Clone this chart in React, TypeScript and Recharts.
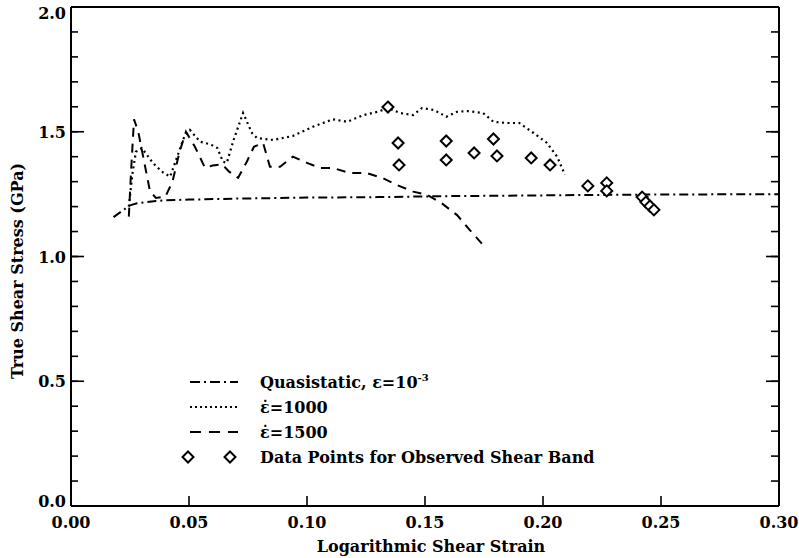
import React from 'react';
import { ComposedChart, Line, Scatter, XAxis, YAxis, ReferenceLine, Label } from 'recharts';

// Quasistatic, strain rate 10^-3
const quasiX = [0.018, 0.022, 0.025, 0.028, 0.032, 0.036, 0.04, 0.05, 0.07, 0.1, 0.13, 0.16, 0.2, 0.24, 0.3];
const quasiY = [1.158, 1.185, 1.205, 1.213, 1.218, 1.222, 1.225, 1.228, 1.232, 1.236, 1.238, 1.242, 1.245, 1.248, 1.25];

// strain rate 1000
const rate1000X = [0.0245, 0.026, 0.0275, 0.03, 0.0347, 0.0385, 0.042, 0.045, 0.048, 0.0504, 0.0547, 0.0589, 0.062, 0.0644, 0.066, 0.069, 0.0729, 0.0767, 0.0788, 0.0856, 0.094, 0.1025, 0.111, 0.117, 0.124, 0.13, 0.1343, 0.1394, 0.145, 0.1487, 0.154, 0.159, 0.1636, 0.168, 0.1746, 0.179, 0.1847, 0.19, 0.196, 0.2017, 0.206, 0.2093];
const rate1000Y = [1.2, 1.33, 1.42, 1.435, 1.375, 1.34, 1.32, 1.4, 1.48, 1.507, 1.46, 1.45, 1.435, 1.38, 1.375, 1.47, 1.575, 1.495, 1.475, 1.467, 1.483, 1.52, 1.55, 1.54, 1.567, 1.58, 1.595, 1.575, 1.567, 1.595, 1.587, 1.56, 1.58, 1.583, 1.575, 1.54, 1.535, 1.535, 1.495, 1.455, 1.4, 1.327];

// strain rate 1500
const rate1500X = [0.0245, 0.0255, 0.0267, 0.0285, 0.031, 0.0335, 0.036, 0.04, 0.043, 0.046, 0.0487, 0.0525, 0.0568, 0.06, 0.064, 0.067, 0.0708, 0.0745, 0.0775, 0.0814, 0.0843, 0.0886, 0.094, 0.1, 0.1055, 0.111, 0.118, 0.125, 0.132, 0.138, 0.145, 0.151, 0.157, 0.1636, 0.169, 0.1746];
const rate1500Y = [1.16, 1.35, 1.55, 1.5, 1.38, 1.26, 1.235, 1.24, 1.3, 1.42, 1.5, 1.44, 1.355, 1.365, 1.37, 1.34, 1.315, 1.38, 1.44, 1.455, 1.36, 1.36, 1.4, 1.375, 1.355, 1.355, 1.335, 1.335, 1.315, 1.287, 1.26, 1.247, 1.214, 1.166, 1.106, 1.046];

// Observed shear band data points
const bandX = [0.1343, 0.1386, 0.139, 0.159, 0.159, 0.1708, 0.179, 0.1805, 0.195, 0.203, 0.219, 0.227, 0.227, 0.242, 0.2436, 0.2453, 0.247];
const bandY = [1.599, 1.455, 1.367, 1.463, 1.387, 1.415, 1.471, 1.403, 1.395, 1.367, 1.283, 1.295, 1.263, 1.238, 1.218, 1.202, 1.187];

const xTicks = [0, 0.05, 0.1, 0.15, 0.2, 0.25, 0.3];
const yTicks = [0, 0.1, 0.2, 0.3, 0.4, 0.5, 0.6, 0.7, 0.8, 0.9, 1.0, 1.1, 1.2, 1.3, 1.4, 1.5, 1.6, 1.7, 1.8, 1.9, 2.0];

const legendLabels = ['Quasistatic, \u03B5=10', '\u03B5\u0307=1000', '\u03B5\u0307=1500', 'Data Points for Observed Shear Band'];

const toData = (xs: number[], ys: number[]) => xs.map((x, i) => ({ x, y: ys[i] }));
const quasiData = toData(quasiX, quasiY);
const rate1000Data = toData(rate1000X, rate1000Y);
const rate1500Data = toData(rate1500X, rate1500Y);
const bandData = toData(bandX, bandY);

const FONT = '"DejaVu Serif", serif';
const FS = 16;
const DASH_QUASI = '9 4 2 4';
const DASH_1000 = '2 3.5';
const DASH_1500 = '9 7';
const TICK_LINE = { stroke: '#000', strokeWidth: 1.6 };

const isMajor = (v: number) => Math.abs(v * 2 - Math.round(v * 2)) < 1e-6;

// With negative tickSize and matching tickMargin, the tick anchor (x, y) sits on the axis line.
const XTick = (props: any) => {
  const x = Number(props.x);
  const y = Number(props.y);
  const v = props.payload ? props.payload.value : 0;
  return (
    <text x={x} y={y + 22} textAnchor="middle" fontFamily={FONT} fontWeight="bold" fontSize={FS} fill="#000" stroke="none">
      {Number(v).toFixed(2)}
    </text>
  );
};

const YTickLeft = (props: any) => {
  const x = Number(props.x);
  const y = Number(props.y);
  const v = props.payload ? Number(props.payload.value) : 0;
  const major = isMajor(v);
  // end labels are nudged inside the frame, as in the reference
  const shift = v >= 2 ? 6 : v <= 0 ? -5 : 0;
  return (
    <g>
      {major && <rect x={x} y={y - 0.8} width={13} height={1.6} fill="#000" />}
      {major && (
        <text x={x - 5} y={y + 6 + shift} textAnchor="end" fontFamily={FONT} fontWeight="bold" fontSize={FS} fill="#000" stroke="none">
          {v.toFixed(1)}
        </text>
      )}
    </g>
  );
};

const YTickRight = (props: any) => {
  const x = Number(props.x);
  const y = Number(props.y);
  const v = props.payload ? props.payload.value : 0;
  const major = isMajor(v);
  return major ? <rect x={x - 13} y={y - 0.8} width={13} height={1.6} fill="#000" /> : <g />;
};

const Diamond = (props: any) => {
  const { cx, cy } = props;
  const r = 5.5;
  return (
    <path
      d={`M${cx},${cy - r}L${cx + r},${cy}L${cx},${cy + r}L${cx - r},${cy}Z`}
      fill="#fff"
      stroke="#000"
      strokeWidth={2}
    />
  );
};

const LegendBox = () => {
  const rows = [13, 38, 63, 88];
  const textStyle = { fontFamily: FONT, fontWeight: 'bold' as const, fontSize: FS, fill: '#000' };
  return (
    <svg width={480} height={105} style={{ position: 'absolute', left: 180, top: 369 }}>
      <line x1={10} y1={rows[0]} x2={58} y2={rows[0]} stroke="#000" strokeWidth={2} strokeDasharray="10 4 2 4" />
      <line x1={10} y1={rows[1]} x2={58} y2={rows[1]} stroke="#000" strokeWidth={2} strokeDasharray="2 3" />
      <line x1={10} y1={rows[2]} x2={58} y2={rows[2]} stroke="#000" strokeWidth={2} strokeDasharray="11 8" />
      <Diamond cx={8} cy={rows[3]} />
      <Diamond cx={50} cy={rows[3]} />
      <text x={80} y={rows[0] + 6} {...textStyle}>
        {legendLabels[0]}
        <tspan fontSize={10} dy={-7}>-3</tspan>
      </text>
      <text x={80} y={rows[1] + 6} {...textStyle}>{legendLabels[1]}</text>
      <text x={80} y={rows[2] + 6} {...textStyle}>{legendLabels[2]}</text>
      <text x={80} y={rows[3] + 6} {...textStyle}>{legendLabels[3]}</text>
    </svg>
  );
};

export default function App() {
  return (
    <div style={{ position: 'absolute', left: 0, top: 0, width: 799, height: 558, background: '#fff' }}>
      <ComposedChart width={799} height={558} margin={{ top: 7, right: 0, bottom: 0, left: 0 }}>
        <XAxis
          type="number"
          dataKey="x"
          domain={[0, 0.3]}
          ticks={xTicks}
          allowDataOverflow
          height={52}
          tickSize={-10}
          tickMargin={10}
          tickLine={TICK_LINE}
          tick={(p: any) => <XTick {...p} />}
          axisLine={{ stroke: '#000', strokeWidth: 2 }}
          interval={0}
        >
          <Label
            content={(p: any) => {
              const vb = p.viewBox;
              return (
                <text x={vb.x + vb.width / 2 + 6} y={vb.y + 46} textAnchor="middle" fontFamily={FONT} fontWeight="bold" fontSize={FS} fill="#000">
                  Logarithmic Shear Strain
                </text>
              );
            }}
          />
        </XAxis>
        <YAxis
          type="number"
          dataKey="y"
          domain={[0, 2]}
          ticks={yTicks}
          allowDataOverflow
          width={71}
          tickSize={-7}
          tickMargin={7}
          tickLine={TICK_LINE}
          tick={(p: any) => <YTickLeft {...p} />}
          axisLine={{ stroke: '#000', strokeWidth: 2 }}
          interval={0}
        >
          <Label
            content={(p: any) => {
              const vb = p.viewBox;
              const cx = vb.x + 23;
              const cy = vb.y + 264;
              return (
                <text x={cx} y={cy} transform={`rotate(-90, ${cx}, ${cy})`} textAnchor="middle" fontFamily={FONT} fontWeight="bold" fontSize={FS} fill="#000">
                  True Shear Stress (GPa)
                </text>
              );
            }}
          />
        </YAxis>
        <YAxis
          yAxisId="right"
          orientation="right"
          type="number"
          domain={[0, 2]}
          ticks={yTicks}
          allowDataOverflow
          width={20}
          tickSize={-8}
          tickMargin={8}
          tickLine={TICK_LINE}
          tick={(p: any) => <YTickRight {...p} />}
          axisLine={{ stroke: '#000', strokeWidth: 2 }}
          interval={0}
        />
        <ReferenceLine y={2} stroke="#000" strokeWidth={2} />
        <Line data={quasiData} dataKey="y" type="linear" dot={false} stroke="#000" strokeWidth={2} strokeDasharray={DASH_QUASI} isAnimationActive={false} />
        <Line data={rate1000Data} dataKey="y" type="linear" dot={false} stroke="#000" strokeWidth={2.2} strokeDasharray={DASH_1000} isAnimationActive={false} />
        <Line data={rate1500Data} dataKey="y" type="linear" dot={false} stroke="#000" strokeWidth={2} strokeDasharray={DASH_1500} isAnimationActive={false} />
        <Scatter data={bandData} dataKey="y" shape={<Diamond />} isAnimationActive={false} />
      </ComposedChart>
      <LegendBox />
    </div>
  );
}
